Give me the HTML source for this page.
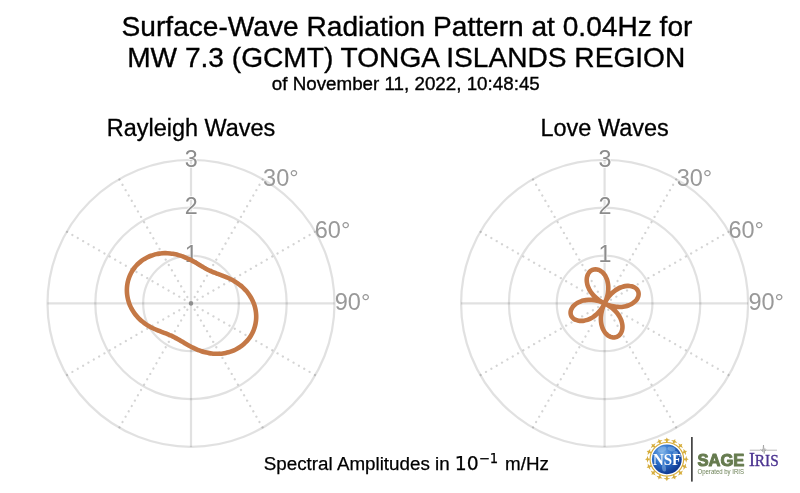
<!DOCTYPE html>
<html><head><meta charset="utf-8"><title>Surface-Wave Radiation Pattern</title>
<style>
html,body{margin:0;padding:0;background:#fff;}
body{width:800px;height:493px;overflow:hidden;}
svg{display:block;font-family:"Liberation Sans",sans-serif;}
</style></head><body>
<svg width="800" height="493" viewBox="0 0 800 493">
<rect width="800" height="493" fill="#fff"/>
<g text-anchor="middle" fill="#000" stroke="#000" stroke-width="0.35">
<text x="407" y="36.0" font-size="28.12">Surface-Wave Radiation Pattern at 0.04Hz for</text>
<text x="406.2" y="66.6" font-size="28.12">MW 7.3 (GCMT) TONGA ISLANDS REGION</text>
<text x="405.8" y="90.4" font-size="18.8">of November 11, 2022, 10:48:45</text>
</g>
<g fill="none" stroke="#000" stroke-opacity="0.118" stroke-width="2.25">
<circle cx="191" cy="303.4" r="47.8333"/>
<circle cx="191" cy="303.4" r="95.6667"/>
<circle cx="191" cy="303.4" r="143.5"/>
<path d="M191,159.9 V446.9 M47.5,303.4 H334.5"/>
</g>
<g fill="none" stroke="#000" stroke-opacity="0.17" stroke-width="2.3" stroke-dasharray="0.01 6.16" stroke-dashoffset="-1.2" stroke-linecap="round">
<path d="M191,303.4 L262.75,179.13"/>
<path d="M191,303.4 L315.27,231.65"/>
<path d="M191,303.4 L315.27,375.15"/>
<path d="M191,303.4 L262.75,427.67"/>
<path d="M191,303.4 L119.25,427.67"/>
<path d="M191,303.4 L66.73,375.15"/>
<path d="M191,303.4 L66.73,231.65"/>
<path d="M191,303.4 L119.25,179.13"/>
</g>
<circle cx="191" cy="303.4" r="2.1" fill="#8e8e8e"/>
<g font-size="23.3" fill="#8c8c8c" text-anchor="middle" stroke="#fff" stroke-width="1.5" stroke-linejoin="round" paint-order="stroke">
<text x="191.3" y="261.5">1</text>
<text x="191.3" y="213.9">2</text>
<text x="191.3" y="166.5">3</text>
</g>
<g font-size="23.5" fill="#999">
<text x="263.1" y="185.5">30°</text>
<text x="314.8" y="238.0">60°</text>
<text x="334.8" y="310.3">90°</text>
</g>
<path d="M191.00,260.15 C191.63,260.48 192.24,260.80 192.85,261.13 C193.45,261.46 194.04,261.79 194.61,262.11 C195.19,262.44 195.75,262.76 196.31,263.08 C196.86,263.41 197.41,263.73 197.94,264.04 C198.48,264.36 199.00,264.67 199.52,264.98 C200.04,265.28 200.55,265.59 201.05,265.89 C201.56,266.19 202.05,266.48 202.55,266.77 C203.05,267.06 203.53,267.34 204.02,267.62 C204.51,267.89 205.00,268.17 205.48,268.43 C205.97,268.70 206.45,268.96 206.94,269.21 C207.43,269.47 207.92,269.72 208.41,269.96 C208.90,270.20 209.39,270.44 209.89,270.67 C210.40,270.91 210.90,271.14 211.41,271.36 C211.92,271.58 212.44,271.80 212.97,272.02 C213.50,272.24 214.03,272.46 214.58,272.67 C215.13,272.89 215.68,273.10 216.25,273.31 C216.81,273.53 217.39,273.74 217.98,273.96 C218.57,274.18 219.16,274.40 219.78,274.62 C220.39,274.85 221.01,275.08 221.64,275.32 C222.28,275.56 222.92,275.81 223.58,276.06 C224.23,276.32 224.90,276.59 225.58,276.87 C226.25,277.15 226.94,277.44 227.63,277.75 C228.32,278.06 229.03,278.38 229.73,278.73 C230.44,279.07 231.15,279.43 231.87,279.81 C232.58,280.18 233.30,280.58 234.02,281.00 C234.74,281.42 235.47,281.86 236.18,282.33 C236.90,282.80 237.62,283.28 238.33,283.79 C239.04,284.31 239.75,284.84 240.44,285.40 C241.14,285.96 241.83,286.55 242.51,287.16 C243.18,287.77 243.85,288.41 244.49,289.07 C245.14,289.73 245.77,290.41 246.38,291.12 C247.00,291.83 247.59,292.56 248.16,293.32 C248.73,294.08 249.28,294.86 249.81,295.66 C250.33,296.46 250.83,297.28 251.30,298.12 C251.77,298.97 252.21,299.83 252.62,300.71 C253.03,301.59 253.41,302.49 253.75,303.40 C254.09,304.31 254.41,305.24 254.68,306.18 C254.96,307.12 255.20,308.07 255.40,309.03 C255.61,310.00 255.77,310.97 255.90,311.94 C256.03,312.92 256.11,313.91 256.16,314.89 C256.21,315.87 256.22,316.87 256.19,317.85 C256.16,318.84 256.09,319.83 255.98,320.81 C255.87,321.79 255.71,322.77 255.52,323.74 C255.33,324.71 255.10,325.68 254.83,326.63 C254.56,327.58 254.25,328.53 253.90,329.45 C253.55,330.38 253.16,331.29 252.74,332.19 C252.32,333.08 251.85,333.96 251.36,334.82 C250.86,335.68 250.33,336.52 249.77,337.33 C249.21,338.14 248.61,338.94 247.98,339.70 C247.35,340.47 246.69,341.21 246.01,341.92 C245.32,342.63 244.61,343.31 243.87,343.97 C243.13,344.62 242.37,345.25 241.58,345.84 C240.80,346.44 239.98,347.00 239.16,347.53 C238.33,348.06 237.48,348.56 236.62,349.02 C235.76,349.48 234.88,349.91 233.98,350.31 C233.09,350.71 232.19,351.07 231.27,351.40 C230.36,351.72 229.43,352.02 228.50,352.28 C227.58,352.54 226.64,352.76 225.70,352.95 C224.76,353.15 223.81,353.30 222.87,353.43 C221.93,353.56 220.99,353.65 220.05,353.71 C219.11,353.78 218.17,353.81 217.24,353.81 C216.31,353.81 215.39,353.79 214.47,353.73 C213.56,353.68 212.65,353.60 211.75,353.49 C210.85,353.39 209.97,353.26 209.09,353.11 C208.22,352.96 207.36,352.78 206.51,352.59 C205.66,352.40 204.83,352.19 204.01,351.96 C203.19,351.73 202.39,351.49 201.60,351.23 C200.82,350.97 200.05,350.70 199.29,350.42 C198.54,350.14 197.80,349.85 197.08,349.55 C196.35,349.25 195.65,348.94 194.96,348.63 C194.27,348.32 193.59,348.00 192.93,347.67 C192.27,347.35 191.63,347.03 191.00,346.70 C190.37,346.37 189.76,346.04 189.15,345.71 C188.55,345.38 187.96,345.05 187.38,344.73 C186.81,344.40 186.24,344.07 185.69,343.75 C185.13,343.43 184.59,343.10 184.06,342.79 C183.52,342.47 183.00,342.15 182.48,341.84 C181.96,341.53 181.45,341.23 180.94,340.93 C180.44,340.63 179.94,340.33 179.45,340.04 C178.95,339.75 178.46,339.47 177.97,339.19 C177.48,338.91 177.00,338.64 176.51,338.37 C176.03,338.10 175.54,337.84 175.06,337.59 C174.57,337.33 174.08,337.08 173.59,336.84 C173.10,336.60 172.61,336.36 172.11,336.12 C171.61,335.89 171.10,335.66 170.59,335.44 C170.08,335.21 169.56,334.99 169.04,334.77 C168.51,334.55 167.97,334.33 167.43,334.12 C166.88,333.90 166.33,333.69 165.77,333.47 C165.20,333.26 164.63,333.04 164.04,332.82 C163.46,332.60 162.86,332.38 162.25,332.15 C161.64,331.92 161.02,331.69 160.40,331.44 C159.77,331.20 159.12,330.95 158.47,330.69 C157.83,330.43 157.16,330.16 156.50,329.88 C155.83,329.59 155.15,329.30 154.46,328.98 C153.78,328.67 153.09,328.34 152.39,328.00 C151.70,327.65 151.00,327.29 150.29,326.90 C149.59,326.52 148.88,326.12 148.18,325.69 C147.48,325.27 146.77,324.82 146.07,324.35 C145.37,323.88 144.67,323.39 143.98,322.88 C143.29,322.36 142.61,321.82 141.94,321.26 C141.26,320.70 140.60,320.11 139.95,319.50 C139.30,318.89 138.66,318.25 138.04,317.59 C137.42,316.93 136.81,316.25 136.23,315.54 C135.64,314.84 135.07,314.11 134.53,313.36 C133.99,312.61 133.47,311.83 132.97,311.04 C132.47,310.25 132.00,309.43 131.56,308.60 C131.11,307.77 130.69,306.92 130.31,306.05 C129.92,305.18 129.56,304.30 129.24,303.40 C128.91,302.50 128.61,301.59 128.35,300.66 C128.09,299.74 127.86,298.80 127.67,297.86 C127.47,296.91 127.31,295.96 127.19,295.00 C127.07,294.04 126.98,293.07 126.93,292.10 C126.88,291.13 126.87,290.16 126.89,289.19 C126.92,288.22 126.98,287.24 127.08,286.27 C127.18,285.30 127.32,284.34 127.50,283.38 C127.67,282.42 127.89,281.46 128.14,280.52 C128.39,279.58 128.69,278.64 129.01,277.72 C129.34,276.81 129.71,275.90 130.11,275.01 C130.51,274.12 130.96,273.24 131.43,272.39 C131.90,271.54 132.41,270.70 132.96,269.89 C133.50,269.08 134.08,268.29 134.68,267.52 C135.29,266.76 135.93,266.02 136.59,265.30 C137.26,264.59 137.96,263.91 138.68,263.25 C139.40,262.59 140.14,261.97 140.91,261.37 C141.68,260.78 142.47,260.21 143.28,259.68 C144.09,259.14 144.93,258.64 145.77,258.17 C146.62,257.70 147.48,257.27 148.36,256.86 C149.23,256.46 150.12,256.09 151.02,255.75 C151.92,255.42 152.83,255.11 153.74,254.84 C154.66,254.57 155.58,254.34 156.50,254.13 C157.43,253.93 158.36,253.76 159.29,253.62 C160.22,253.48 161.15,253.38 162.08,253.30 C163.00,253.23 163.93,253.18 164.85,253.17 C165.77,253.15 166.69,253.17 167.60,253.21 C168.51,253.26 169.41,253.33 170.30,253.43 C171.19,253.52 172.07,253.65 172.94,253.79 C173.81,253.93 174.67,254.11 175.52,254.29 C176.36,254.48 177.19,254.69 178.01,254.91 C178.82,255.14 179.63,255.38 180.41,255.64 C181.20,255.89 181.97,256.16 182.72,256.44 C183.47,256.72 184.21,257.01 184.93,257.31 C185.65,257.61 186.36,257.92 187.05,258.23 C187.74,258.54 188.41,258.86 189.07,259.18 C189.73,259.50 190.37,259.83 191.00,260.15Z" fill="none" stroke="#c47846" stroke-width="4.6" stroke-linejoin="round"/>
<text x="191" y="136.1" font-size="23.45" fill="#000" stroke="#000" stroke-width="0.3" text-anchor="middle">Rayleigh Waves</text>
<g fill="none" stroke="#000" stroke-opacity="0.118" stroke-width="2.25">
<circle cx="604.6" cy="303.4" r="47.8333"/>
<circle cx="604.6" cy="303.4" r="95.6667"/>
<circle cx="604.6" cy="303.4" r="143.5"/>
<path d="M604.6,159.9 V446.9 M461.1,303.4 H748.1"/>
</g>
<g fill="none" stroke="#000" stroke-opacity="0.17" stroke-width="2.3" stroke-dasharray="0.01 6.16" stroke-dashoffset="-1.2" stroke-linecap="round">
<path d="M604.6,303.4 L676.35,179.13"/>
<path d="M604.6,303.4 L728.87,231.65"/>
<path d="M604.6,303.4 L728.87,375.15"/>
<path d="M604.6,303.4 L676.35,427.67"/>
<path d="M604.6,303.4 L532.85,427.67"/>
<path d="M604.6,303.4 L480.33,375.15"/>
<path d="M604.6,303.4 L480.33,231.65"/>
<path d="M604.6,303.4 L532.85,179.13"/>
</g>
<circle cx="604.6" cy="303.4" r="2.1" fill="#8e8e8e"/>
<g font-size="23.3" fill="#8c8c8c" text-anchor="middle" stroke="#fff" stroke-width="1.5" stroke-linejoin="round" paint-order="stroke">
<text x="604.9" y="261.5">1</text>
<text x="604.9" y="213.9">2</text>
<text x="604.9" y="166.5">3</text>
</g>
<g font-size="23.5" fill="#999">
<text x="676.7" y="185.5">30°</text>
<text x="728.4" y="238.0">60°</text>
<text x="748.4" y="310.3">90°</text>
</g>
<path d="M604.60,274.81 C605.01,275.41 605.41,276.05 605.76,276.74 C606.12,277.43 606.45,278.16 606.74,278.93 C607.03,279.69 607.29,280.50 607.50,281.35 C607.72,282.19 607.90,283.07 608.03,283.97 C608.16,284.87 608.25,285.81 608.29,286.77 C608.33,287.72 608.32,288.71 608.27,289.71 C608.21,290.70 608.11,291.73 607.96,292.75 C607.80,293.77 607.60,294.82 607.35,295.85 C607.09,296.89 606.77,297.97 606.44,298.96 C606.11,299.94 605.44,301.47 605.36,301.77 C605.28,302.07 605.60,301.36 605.98,300.76 C606.35,300.16 607.04,299.00 607.62,298.17 C608.20,297.34 608.82,296.53 609.47,295.76 C610.11,295.00 610.78,294.27 611.47,293.59 C612.16,292.90 612.88,292.26 613.61,291.66 C614.33,291.07 615.09,290.51 615.84,290.00 C616.60,289.49 617.38,289.03 618.15,288.61 C618.93,288.19 619.72,287.82 620.50,287.50 C621.28,287.18 622.07,286.90 622.85,286.68 C623.63,286.45 624.41,286.27 625.17,286.14 C625.93,286.01 626.68,285.93 627.41,285.90 C628.14,285.86 628.86,285.88 629.55,285.93 C630.23,285.99 630.90,286.10 631.53,286.24 C632.16,286.39 632.77,286.58 633.33,286.81 C633.89,287.04 634.43,287.32 634.91,287.62 C635.40,287.93 635.85,288.27 636.24,288.64 C636.64,289.02 637.00,289.43 637.30,289.85 C637.60,290.28 637.86,290.75 638.06,291.22 C638.26,291.70 638.41,292.20 638.50,292.71 C638.59,293.22 638.63,293.75 638.62,294.29 C638.60,294.82 638.53,295.36 638.40,295.91 C638.27,296.45 638.09,297.00 637.85,297.54 C637.62,298.08 637.32,298.61 636.98,299.14 C636.63,299.66 636.24,300.18 635.79,300.67 C635.34,301.17 634.84,301.65 634.30,302.10 C633.76,302.56 633.17,303.00 632.54,303.40 C631.91,303.80 631.23,304.19 630.52,304.53 C629.82,304.88 629.06,305.19 628.29,305.47 C627.51,305.75 626.69,306.00 625.85,306.20 C625.02,306.40 624.15,306.57 623.26,306.69 C622.37,306.81 621.46,306.90 620.53,306.93 C619.61,306.97 618.66,306.96 617.71,306.91 C616.75,306.86 615.78,306.76 614.81,306.62 C613.84,306.48 612.85,306.28 611.87,306.05 C610.89,305.81 609.87,305.51 608.93,305.19 C607.99,304.88 606.50,304.22 606.23,304.16 C605.95,304.09 606.66,304.41 607.29,304.80 C607.91,305.19 609.12,305.91 610.00,306.52 C610.88,307.13 611.74,307.79 612.55,308.46 C613.36,309.14 614.13,309.85 614.85,310.57 C615.56,311.30 616.24,312.05 616.86,312.81 C617.48,313.57 618.05,314.35 618.57,315.13 C619.09,315.91 619.56,316.70 619.98,317.49 C620.40,318.28 620.76,319.08 621.07,319.87 C621.38,320.66 621.64,321.45 621.84,322.22 C622.05,322.99 622.20,323.76 622.31,324.51 C622.41,325.25 622.47,325.99 622.47,326.69 C622.48,327.40 622.44,328.09 622.35,328.75 C622.27,329.41 622.13,330.05 621.96,330.65 C621.79,331.25 621.57,331.83 621.32,332.36 C621.07,332.89 620.78,333.40 620.46,333.86 C620.13,334.32 619.77,334.74 619.39,335.12 C619.01,335.50 618.59,335.84 618.16,336.13 C617.72,336.42 617.26,336.66 616.78,336.86 C616.30,337.06 615.80,337.21 615.29,337.31 C614.78,337.41 614.26,337.46 613.73,337.46 C613.20,337.46 612.66,337.41 612.12,337.31 C611.58,337.21 611.03,337.06 610.50,336.86 C609.96,336.65 609.43,336.40 608.90,336.09 C608.38,335.78 607.86,335.43 607.37,335.02 C606.87,334.61 606.38,334.15 605.92,333.65 C605.46,333.14 605.01,332.59 604.60,331.99 C604.19,331.39 603.79,330.75 603.44,330.06 C603.08,329.37 602.75,328.64 602.46,327.87 C602.17,327.11 601.91,326.30 601.70,325.45 C601.48,324.61 601.30,323.73 601.17,322.83 C601.04,321.93 600.95,320.99 600.91,320.03 C600.87,319.08 600.88,318.09 600.93,317.09 C600.99,316.10 601.09,315.07 601.24,314.05 C601.40,313.03 601.60,311.98 601.85,310.95 C602.11,309.91 602.43,308.83 602.76,307.84 C603.09,306.86 603.76,305.33 603.84,305.03 C603.92,304.73 603.60,305.44 603.22,306.04 C602.85,306.64 602.16,307.80 601.58,308.63 C601.00,309.46 600.38,310.27 599.73,311.04 C599.09,311.80 598.42,312.53 597.73,313.21 C597.04,313.90 596.32,314.54 595.59,315.14 C594.87,315.73 594.11,316.29 593.36,316.80 C592.60,317.31 591.82,317.77 591.05,318.19 C590.27,318.61 589.48,318.98 588.70,319.30 C587.92,319.62 587.13,319.90 586.35,320.12 C585.57,320.35 584.79,320.53 584.03,320.66 C583.27,320.79 582.52,320.87 581.79,320.90 C581.06,320.94 580.34,320.92 579.65,320.87 C578.97,320.81 578.30,320.70 577.67,320.56 C577.04,320.41 576.43,320.22 575.87,319.99 C575.31,319.76 574.77,319.48 574.29,319.18 C573.80,318.87 573.35,318.53 572.96,318.16 C572.56,317.78 572.20,317.37 571.90,316.95 C571.60,316.52 571.34,316.05 571.14,315.58 C570.94,315.10 570.79,314.60 570.70,314.09 C570.61,313.58 570.57,313.05 570.58,312.51 C570.60,311.98 570.67,311.44 570.80,310.89 C570.93,310.35 571.11,309.80 571.35,309.26 C571.58,308.72 571.88,308.19 572.22,307.66 C572.57,307.14 572.96,306.62 573.41,306.13 C573.86,305.63 574.36,305.15 574.90,304.70 C575.44,304.24 576.03,303.80 576.66,303.40 C577.29,303.00 577.97,302.61 578.68,302.27 C579.38,301.92 580.14,301.61 580.91,301.33 C581.69,301.05 582.51,300.80 583.35,300.60 C584.18,300.40 585.05,300.23 585.94,300.11 C586.83,299.99 587.74,299.90 588.67,299.87 C589.59,299.83 590.54,299.84 591.49,299.89 C592.45,299.94 593.42,300.04 594.39,300.18 C595.36,300.32 596.35,300.52 597.33,300.75 C598.31,300.99 599.33,301.29 600.27,301.61 C601.21,301.92 602.70,302.58 602.97,302.64 C603.25,302.71 602.54,302.39 601.91,302.00 C601.29,301.61 600.08,300.89 599.20,300.28 C598.32,299.67 597.46,299.01 596.65,298.34 C595.84,297.66 595.07,296.95 594.35,296.23 C593.64,295.50 592.96,294.75 592.34,293.99 C591.72,293.23 591.15,292.45 590.63,291.67 C590.11,290.89 589.64,290.10 589.22,289.31 C588.80,288.52 588.44,287.72 588.13,286.93 C587.82,286.14 587.56,285.35 587.36,284.58 C587.15,283.81 587.00,283.04 586.89,282.29 C586.79,281.55 586.73,280.81 586.73,280.11 C586.72,279.40 586.76,278.71 586.85,278.05 C586.93,277.39 587.07,276.75 587.24,276.15 C587.41,275.55 587.63,274.97 587.88,274.44 C588.13,273.91 588.42,273.40 588.74,272.94 C589.07,272.48 589.43,272.06 589.81,271.68 C590.19,271.30 590.61,270.96 591.04,270.67 C591.48,270.38 591.94,270.14 592.42,269.94 C592.90,269.74 593.40,269.59 593.91,269.49 C594.42,269.39 594.94,269.34 595.47,269.34 C596.00,269.34 596.54,269.39 597.08,269.49 C597.62,269.59 598.17,269.74 598.70,269.94 C599.24,270.15 599.77,270.40 600.30,270.71 C600.82,271.02 601.34,271.37 601.83,271.78 C602.33,272.19 602.82,272.65 603.28,273.15 C603.74,273.66 604.19,274.21 604.60,274.81Z" fill="none" stroke="#c47846" stroke-width="4.6" stroke-linejoin="round"/>
<text x="604.6" y="136.1" font-size="23.45" fill="#000" stroke="#000" stroke-width="0.3" text-anchor="middle">Love Waves</text>
<text x="263.8" y="470.3" font-size="18.8" fill="#000" stroke="#000" stroke-width="0.25">Spectral Amplitudes in <tspan font-family="DejaVu Sans, sans-serif">10<tspan dy="-7" font-size="13.2">−1</tspan></tspan><tspan dy="7" dx="1.6"> m/Hz</tspan></text>
<defs><radialGradient id="gl" cx="0.36" cy="0.3" r="0.8"><stop offset="0" stop-color="#7db2e8"/><stop offset="0.45" stop-color="#2a6ec8"/><stop offset="1" stop-color="#0a2c84"/></radialGradient></defs>
<path d="M666.85,437.40 L667.65,439.10 L670.35,440.00 L667.75,440.70 L667.75,442.10 L665.95,442.10 L665.95,440.70 L663.35,440.00 L666.05,439.10Z M675.23,439.07 L675.32,440.94 L677.47,442.81 L674.80,442.46 L674.26,443.75 L672.60,443.06 L673.14,441.77 L671.00,440.13 L673.84,440.33Z M682.34,443.81 L681.70,445.58 L682.97,448.13 L680.64,446.78 L679.65,447.77 L678.38,446.50 L679.37,445.51 L678.02,443.18 L680.57,444.45Z M687.08,450.92 L685.82,452.31 L686.02,455.15 L684.38,453.01 L683.09,453.55 L682.40,451.89 L683.69,451.35 L683.34,448.68 L685.21,450.83Z M688.75,459.30 L687.05,460.10 L686.15,462.80 L685.45,460.20 L684.05,460.20 L684.05,458.40 L685.45,458.40 L686.15,455.80 L687.05,458.50Z M687.08,467.68 L685.21,467.77 L683.34,469.92 L683.69,467.25 L682.40,466.71 L683.09,465.05 L684.38,465.59 L686.02,463.45 L685.82,466.29Z M682.34,474.79 L680.57,474.15 L678.02,475.42 L679.37,473.09 L678.38,472.10 L679.65,470.83 L680.64,471.82 L682.97,470.47 L681.70,473.02Z M675.23,479.53 L673.84,478.27 L671.00,478.47 L673.14,476.83 L672.60,475.54 L674.26,474.85 L674.80,476.14 L677.47,475.79 L675.32,477.66Z M666.85,481.20 L666.05,479.50 L663.35,478.60 L665.95,477.90 L665.95,476.50 L667.75,476.50 L667.75,477.90 L670.35,478.60 L667.65,479.50Z M658.47,479.53 L658.38,477.66 L656.23,475.79 L658.90,476.14 L659.44,474.85 L661.10,475.54 L660.56,476.83 L662.70,478.47 L659.86,478.27Z M651.36,474.79 L652.00,473.02 L650.73,470.47 L653.06,471.82 L654.05,470.83 L655.32,472.10 L654.33,473.09 L655.68,475.42 L653.13,474.15Z M646.62,467.68 L647.88,466.29 L647.68,463.45 L649.32,465.59 L650.61,465.05 L651.30,466.71 L650.01,467.25 L650.36,469.92 L648.49,467.77Z M644.95,459.30 L646.65,458.50 L647.55,455.80 L648.25,458.40 L649.65,458.40 L649.65,460.20 L648.25,460.20 L647.55,462.80 L646.65,460.10Z M646.62,450.92 L648.49,450.83 L650.36,448.68 L650.01,451.35 L651.30,451.89 L650.61,453.55 L649.32,453.01 L647.68,455.15 L647.88,452.31Z M651.36,443.81 L653.13,444.45 L655.68,443.18 L654.33,445.51 L655.32,446.50 L654.05,447.77 L653.06,446.78 L650.73,448.13 L652.00,445.58Z M658.47,439.07 L659.86,440.33 L662.70,440.13 L660.56,441.77 L661.10,443.06 L659.44,443.75 L658.90,442.46 L656.23,442.81 L658.38,440.94Z" fill="#d6ad3c"/>
<circle cx="666.85" cy="459.3" r="16.8" fill="none" stroke="#d6ad3c" stroke-width="1.1"/>
<circle cx="666.85" cy="459.3" r="14.9" fill="url(#gl)"/>
<g fill="#9cc6ee" opacity="0.45"><ellipse cx="662" cy="449.5" rx="4.5" ry="2.6" transform="rotate(-20 662 449.5)"/><ellipse cx="671.5" cy="449" rx="4" ry="2.2" transform="rotate(15 671.5 449)"/><ellipse cx="675.5" cy="454" rx="2.6" ry="3" /><ellipse cx="664" cy="468" rx="2" ry="3.6" transform="rotate(-10 664 468)"/></g>
<text transform="translate(667.05,464.9) scale(0.9,1)" font-family="Liberation Serif, serif" font-weight="bold" font-size="16.6" fill="#fff" text-anchor="middle">NSF</text>
<rect x="691.2" y="437" width="1.4" height="44.6" fill="#1a1a1a"/>
<text x="697.4" y="465.7" font-weight="bold" font-size="16.6" fill="#667b4f" stroke="#667b4f" stroke-width="1.0" stroke-linejoin="round">SAGE</text>
<text x="697.5" y="473.9" font-size="6.3" fill="#6b8055" textLength="46.5" lengthAdjust="spacingAndGlyphs">Operated by IRIS</text>
<g font-family="Liberation Serif, serif" fill="#4b3390" stroke="#4b3390" stroke-width="0.35"><text transform="translate(748.9,466.1) scale(0.9,1)"><tspan font-size="19.8">I</tspan><tspan font-size="17">RIS</tspan></text></g>
<path d="M749.8,450.2 H760 l0.8,-0.6 0.7,1.2 0.7,-1.6 0.6,2.6 0.7,-6.8 0.7,8.6 0.7,-5 0.6,2.4 0.7,-1.2 0.7,0.4 H777" fill="none" stroke="#9a9a9a" stroke-width="0.7"/>
</svg>
</body></html>
